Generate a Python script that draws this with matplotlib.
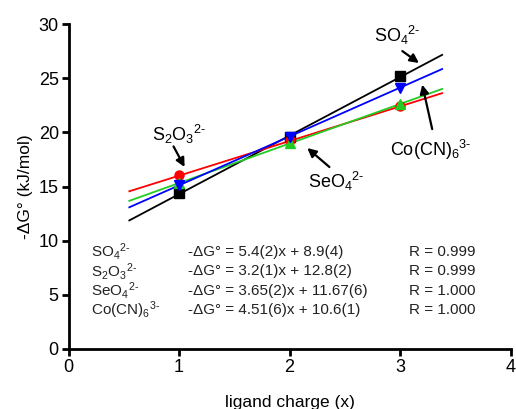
import numpy as np
import matplotlib
matplotlib.use('Agg')
import matplotlib.pyplot as plt

plt.rcParams['font.family'] = ['Liberation Sans', 'DejaVu Sans']
plt.rcParams['mathtext.default'] = 'regular'

# ligand charge
charge = [1, 2, 3]

# measured -dG (kJ/mol)
so4 = [14.4, 19.6, 25.2]
s2o3 = [16.1, 19.3, 22.4]
seo4 = [15.3, 19.0, 22.6]
cocn = [15.1, 19.6, 24.1]

# fit parameters (slope, intercept)
slopes = [5.4, 3.2, 3.65, 4.51]
intercepts = [8.9, 12.8, 11.67, 10.6]

hy = '\u2010'
names = [r'SO$_4$$^{2' + hy + '}$', r'S$_2$O$_3$$^{2' + hy + '}$',
         r'SeO$_4$$^{2' + hy + '}$', r'Co(CN)$_6$$^{3' + hy + '}$']
equations = ['-\u0394G\u00b0 = 5.4(2)x + 8.9(4)', '-\u0394G\u00b0 = 3.2(1)x + 12.8(2)',
             '-\u0394G\u00b0 = 3.65(2)x + 11.67(6)', '-\u0394G\u00b0 = 4.51(6)x + 10.6(1)']
rvals = ['R = 0.999', 'R = 0.999', 'R = 1.000', 'R = 1.000']

fig = plt.figure(figsize=(5.16, 4.09), dpi=100)
ax = fig.add_axes([0.1328, 0.1467, 0.8569, 0.7946])

xfit = np.array([0.55, 3.38])
series = [(so4, 'black', 's', 0), (s2o3, 'red', 'o', 1),
          (seo4, '#22cc22', '^', 2), (cocn, 'blue', 'v', 3)]
for y, c, m, i in series:
    ax.plot(xfit, slopes[i]*xfit + intercepts[i], color=c, lw=1.3, zorder=2)
for y, c, m, i in series:
    ax.plot(charge, y, m, color=c, ms=6.5, mec=c, zorder=3)

ax.set_xlim(0, 4)
ax.set_ylim(0, 30)
ax.set_xticks([0, 1, 2, 3, 4])
ax.set_yticks([0, 5, 10, 15, 20, 25, 30])
ax.spines['top'].set_visible(False)
ax.spines['right'].set_visible(False)
ax.spines['left'].set_linewidth(2)
ax.spines['bottom'].set_linewidth(2)
ax.tick_params(width=2, length=5, labelsize=13, pad=2)
ax.set_xlabel('ligand charge (x)', fontsize=12.5, labelpad=14)
ax.set_ylabel('-\u0394G\u00b0 (kJ/mol)', fontsize=12.5, labelpad=4)

# labels with arrows
ap = dict(arrowstyle='-|>', color='black', lw=1.6, mutation_scale=13,
          shrinkA=0, shrinkB=0)
labels = [(names[0], (2.97, 28.9), (3.02, 27.5), (3.17, 26.4)),
          (names[1], (1.0, 19.8), (0.95, 18.7), (1.05, 16.8)),
          (names[2], (2.42, 15.5), (2.36, 16.8), (2.16, 18.55)),
          (names[3], (3.28, 18.4), (3.29, 20.3), (3.2, 24.4))]
for txt, pos, start, tip in labels:
    ax.text(pos[0], pos[1], txt, fontsize=13, ha='center', va='center')
    ax.annotate('', xy=tip, xytext=start, arrowprops=ap)

# fit table
rows_y = [9.0, 7.2, 5.4, 3.6]
for ty, n, e, r in zip(rows_y, names, equations, rvals):
    ax.text(0.2, ty, n, fontsize=11, va='center', color='#222222')
    ax.text(1.08, ty, e, fontsize=11, va='center', color='#222222')
    ax.text(3.08, ty, r, fontsize=11, va='center', color='#222222')

fig.savefig('out.png', dpi=100)
